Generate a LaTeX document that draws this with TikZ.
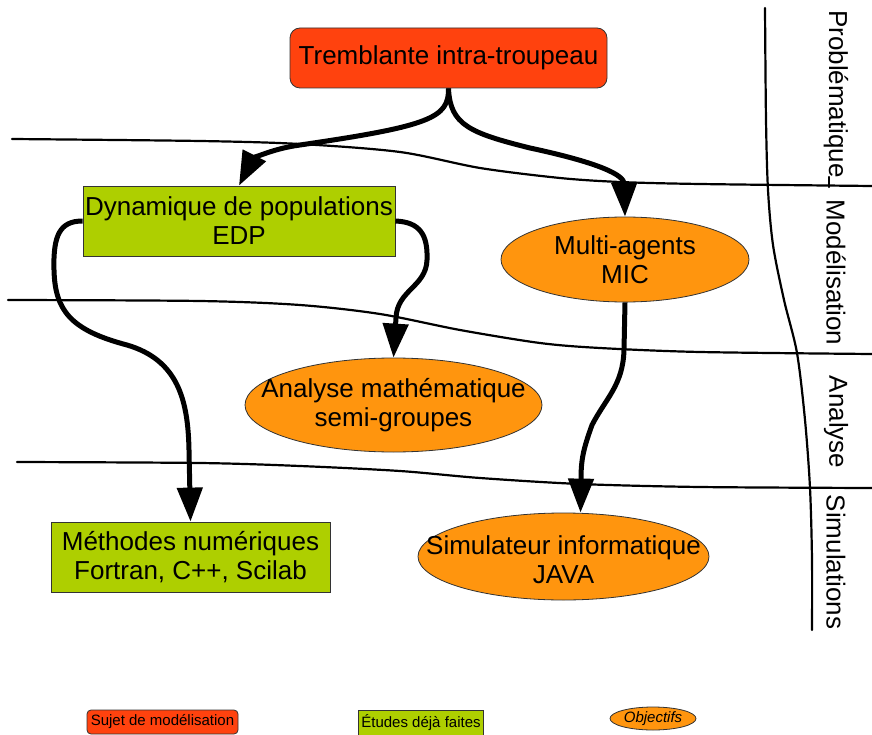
\documentclass[tikz,border=0pt]{standalone}
\usepackage{fontspec}
\setmainfont{Liberation Sans}
\usetikzlibrary{shapes.geometric,arrows.meta,calc}
\definecolor{subjred}{HTML}{FF420E}
\definecolor{doneg}{HTML}{AECF00}
\definecolor{goalor}{HTML}{FF950E}
\definecolor{edgegray}{HTML}{333333}
\begin{document}
\begin{tikzpicture}[x=1pt,y=-1pt,
  bigtext/.style={font=\fontsize{26}{29}\selectfont, align=center, text=black},
  legtext/.style={font=\fontsize{15}{17}\selectfont, text=black},
  redbox/.style={draw=edgegray, line width=0.8pt, fill=subjred, rounded corners=10pt, inner sep=0pt},
  greenbox/.style={draw=edgegray, line width=0.8pt, fill=doneg, inner sep=0pt},
  goalell/.style={ellipse, draw=edgegray, line width=0.8pt, fill=goalor, inner sep=0pt},
  sepline/.style={line width=2.2pt, line cap=round, line join=round},
  flow/.style={line width=5pt, -{Triangle[length=34pt,width=25pt]}},
  phase/.style={font=\fontsize{26}{29}\selectfont, rotate=-90, inner sep=0pt}]

\useasboundingbox (0,0) rectangle (872,735);

% phase separators
\draw[sepline] plot[smooth, tension=0.5] coordinates
  {(12,139) (200,141) (300,144) (400,152) (480,168) (560,178) (620,182) (700,184) (872,186)};
\draw[sepline] plot[smooth, tension=0.5] coordinates
  {(8,300) (200,301) (300,305) (380,314) (460,330) (540,343) (600,348) (700,352) (872,354)};
\draw[sepline] plot[smooth, tension=0.5] coordinates
  {(17,462) (200,463) (300,466) (400,471) (480,478) (580,484) (700,487) (872,488)};
\draw[sepline] plot[smooth, tension=0.5] coordinates
  {(765,8) (766,120) (768,190) (773,245) (784,300) (797,353) (805,420) (810,488) (812,560) (812,630)};
\draw[sepline] (829,177) -- (829,187);

% phase names
\node[phase] (ph-prob) at (836,94) {Problématique};
\node[phase] (ph-mod) at (836,272.5) {Modélisation};
\node[phase] (ph-ana) at (836,422) {Analyse};
\node[phase] (ph-sim) at (836,562) {Simulations};

% boxes
\node[redbox, bigtext, minimum width=317, minimum height=60] (tremb) at (448.5,58) {Tremblante intra-troupeau};
\node[greenbox, bigtext, minimum width=312, minimum height=70] (dyn) at (239,221) {Dynamique de populations\\EDP};
\node[greenbox, bigtext, minimum width=279, minimum height=70] (meth) at (190.5,557) {Méthodes numériques\\Fortran, C++, Scilab};

\node[goalell, minimum width=248, minimum height=85] (multi) at (625,259.5) {};
\node[bigtext] (multi-text) at (multi.center) {Multi-agents\\MIC};
\node[goalell, minimum width=297, minimum height=94] (ana) at (393.5,405) {};
\node[bigtext] (ana-text) at (ana.center) {Analyse mathématique\\semi-groupes};
\node[goalell, minimum width=291, minimum height=87] (simul) at (563.5,556.5) {};
\node[bigtext] (simul-text) at ($(simul.center)+(0,3)$) {Simulateur informatique\\JAVA};

% links
\draw[flow] (tremb.south) .. controls (449,118) and (430,126) .. (300,145)
  .. controls (270,149) and (252,160) .. (dyn.north);
\draw[flow] (tremb.south) .. controls (450,125) and (470,133) .. (530,148)
  .. controls (600,163) and (624,175) .. (multi.north);
\draw[flow] (dyn.west) .. controls (60,221) and (53,235) .. (54,270)
  .. controls (55,310) and (70,330) .. (127,345)
  .. controls (178,360) and (188,400) .. (189,450) -- (meth.north);
\draw[flow] (dyn.east) .. controls (420,222) and (428,235) .. (427,260)
  .. controls (426,287) and (397,290) .. (396,318) -- (ana.north);
\draw[flow] (multi.south) -- (624,350) .. controls (623,385) and (606,398) .. (592,425)
  .. controls (583,450) and (581,460) .. (581,480) -- ($(simul.north)+(17,0)$);

% legend
\node[redbox, legtext, rounded corners=4pt, minimum width=151, minimum height=24] (leg-sujet) at (162.5,722) {Sujet de modélisation};
\node[greenbox, legtext, minimum width=125, minimum height=25] (leg-etudes) at (421,722.5) {Études déjà faites};
\node[goalell, legtext, minimum width=86, minimum height=23] (leg-obj) at (653,718.5) {\itshape Objectifs};
\end{tikzpicture}
\end{document}
